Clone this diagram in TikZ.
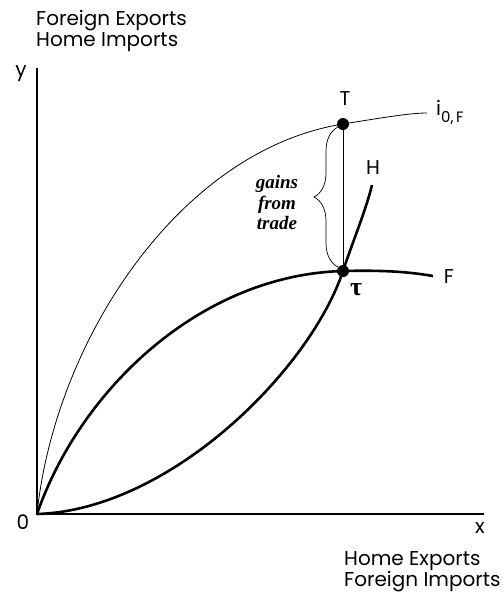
\documentclass[tikz,border=0pt]{standalone}
\usepackage{amsmath}
\usepackage{fontspec}
\setmainfont{Poppins}
\newfontfamily\gainsfont{Liberation Serif}
\usetikzlibrary{decorations.pathreplacing}
\begin{document}
\begin{tikzpicture}[x=1pt,y=-1pt,
  lbl/.style={inner sep=0pt,font=\fontsize{20}{21}\selectfont},
  thickcurve/.style={line width=2.6pt},
  thincurve/.style={line width=0.8pt},
  axis/.style={line width=1.2pt},
  dot/.style={circle,fill=black,inner sep=0pt,minimum size=12pt}]
\useasboundingbox (0,0) rectangle (504,598);
% axes
\coordinate (O) at (37,514);
\coordinate (ytop) at (37,68);
\coordinate (xend) at (484,514);
\draw[axis] (ytop) -- (O) -- (xend);
% points
\coordinate (Tp) at (343,124);
\coordinate (taup) at (343,271);
% i0F curve
\draw[thincurve] (O) .. controls (55,340) and (180,150) .. (Tp)
   .. controls (383,117.6) and (410,113) .. (427,113);
% F curve
\draw[thickcurve] (O) .. controls (80,390) and (200,275) .. (taup)
   .. controls (385,270) and (410,272) .. (433,276);
% H curve
\draw[thickcurve] (O) .. controls (170,510) and (310,370) .. (taup)
   .. controls (354,238) and (366,210) .. (372,185);
% vertical line
\draw[thincurve] (Tp) -- (taup);
% brace
\draw[line width=0.7pt,decorate,decoration={brace,amplitude=24pt}] (338,267) -- (338,127);
% dots
\node[dot] (T) at (Tp) {};
\node[dot] (tau) at (taup) {};
% labels
\node[lbl,anchor=north west,align=left] (yl) at (36,10) {Foreign Exports\\Home Imports};
\node[lbl] (ylab) at (21,74) {y};
\node[lbl] (xlab) at (480,528) {x};
\node[lbl] (zero) at (23,522) {0};
\node[lbl,anchor=north west,align=left] (xl) at (344,551) {Home Exports\\Foreign Imports};
\node[lbl] (Tl) at (345,99) {T};
\node[lbl,anchor=base west] (il) at (436,115) {i\raisebox{-0.35em}{\fontsize{15}{15}\selectfont 0,\,F}};
\node[lbl] (Hl) at (373,168) {H};
\node[lbl] (Fl) at (449,277) {F};
\node[inner sep=0pt,font=\gainsfont\bfseries\fontsize{26}{26}\selectfont] (taul) at (356,290) {τ};
\node[inner sep=0pt,align=center,font=\gainsfont\bfseries\itshape\fontsize{19}{20.5}\selectfont] (gains) at (277,203) {gains\\from\\trade};
\end{tikzpicture}
\end{document}
